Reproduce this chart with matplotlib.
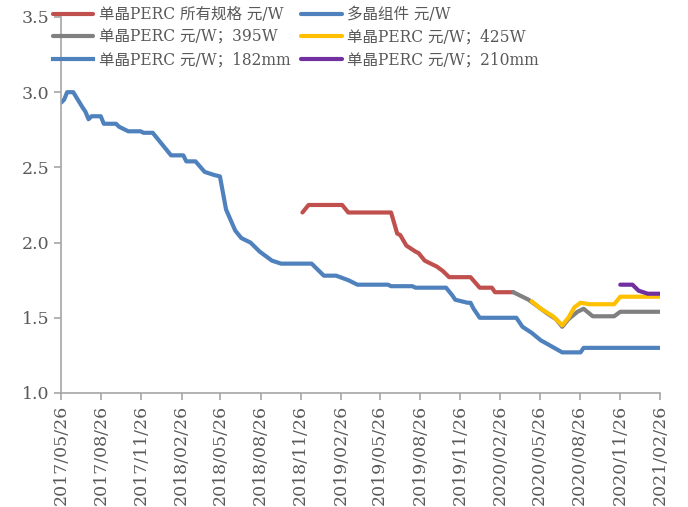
import matplotlib
matplotlib.use('Agg')
import matplotlib.pyplot as plt
import pandas as pd

plt.rcParams['font.family'] = ['DejaVu Serif', 'Noto Sans CJK SC']

# 多晶组件 元/W
dj_dates = ['2017-05-26', '2017-06-02', '2017-06-09', '2017-06-23', '2017-07-14', '2017-07-21',
            '2017-07-28', '2017-08-04', '2017-08-25', '2017-09-01', '2017-09-29', '2017-10-06',
            '2017-10-27', '2017-11-24', '2017-12-01', '2017-12-22', '2018-01-19', '2018-02-02',
            '2018-03-02', '2018-03-09', '2018-03-30', '2018-04-20', '2018-05-11', '2018-05-25',
            '2018-06-08', '2018-06-29', '2018-07-13', '2018-08-03', '2018-08-24', '2018-09-21',
            '2018-10-12', '2018-12-21', '2019-01-18', '2019-02-15', '2019-03-15', '2019-04-05',
            '2019-06-14', '2019-06-21', '2019-08-09', '2019-08-16', '2019-10-25', '2019-11-08',
            '2019-11-15', '2019-12-13', '2019-12-20', '2019-12-27', '2020-01-10', '2020-04-03',
            '2020-04-17', '2020-05-08', '2020-05-29', '2020-07-17', '2020-08-28', '2020-09-04',
            '2021-02-26']
dj_vals = [2.93, 2.95, 3.00, 3.00, 2.90, 2.87,
           2.82, 2.84, 2.84, 2.79, 2.79, 2.77,
           2.74, 2.74, 2.73, 2.73, 2.63, 2.58,
           2.58, 2.54, 2.54, 2.47, 2.45, 2.44,
           2.22, 2.08, 2.03, 2.00, 1.94, 1.88,
           1.86, 1.86, 1.78, 1.78, 1.75, 1.72,
           1.72, 1.71, 1.71, 1.70, 1.70, 1.65,
           1.62, 1.60, 1.60, 1.56, 1.50, 1.50,
           1.44, 1.40, 1.35, 1.27, 1.27, 1.30,
           1.30]

# 单晶PERC 所有规格 元/W
all_dates = ['2018-11-30', '2018-12-14', '2019-03-01', '2019-03-15', '2019-06-21', '2019-07-05',
             '2019-07-12', '2019-07-26', '2019-08-16', '2019-08-23', '2019-09-06', '2019-09-20',
             '2019-10-04', '2019-10-18', '2019-11-01', '2019-12-20', '2020-01-10', '2020-02-07',
             '2020-02-14', '2020-03-27']
all_vals = [2.20, 2.25, 2.25, 2.20, 2.20, 2.06,
            2.05, 1.98, 1.94, 1.93, 1.88, 1.86,
            1.84, 1.81, 1.77, 1.77, 1.70, 1.70,
            1.67, 1.67]

# 单晶PERC 元/W；395W
w395_dates = ['2020-03-27', '2020-04-03', '2020-05-01', '2020-06-12', '2020-07-03', '2020-07-17',
              '2020-07-31', '2020-08-21', '2020-09-04', '2020-09-25', '2020-11-13', '2020-11-27',
              '2021-02-26']
w395_vals = [1.67, 1.66, 1.62, 1.53, 1.49, 1.44,
             1.49, 1.54, 1.56, 1.51, 1.51, 1.54,
             1.54]

# 单晶PERC 元/W；425W
w425_dates = ['2020-05-08', '2020-05-29', '2020-06-26', '2020-07-10', '2020-07-17', '2020-07-31',
              '2020-08-14', '2020-08-28', '2020-09-18', '2020-11-13', '2020-11-27', '2021-02-26']
w425_vals = [1.61, 1.56, 1.51, 1.47, 1.45, 1.50,
             1.57, 1.60, 1.59, 1.59, 1.64, 1.64]

# 单晶PERC 元/W；182mm (no visible points)
mm182_dates = []
mm182_vals = []

# 单晶PERC 元/W；210mm
mm210_dates = ['2020-11-27', '2020-12-25', '2021-01-08', '2021-01-29', '2021-02-26']
mm210_vals = [1.72, 1.72, 1.68, 1.66, 1.66]

tick_labels = ['2017/05/26', '2017/08/26', '2017/11/26', '2018/02/26', '2018/05/26',
               '2018/08/26', '2018/11/26', '2019/02/26', '2019/05/26', '2019/08/26',
               '2019/11/26', '2020/02/26', '2020/05/26', '2020/08/26', '2020/11/26',
               '2021/02/26']

fig = plt.figure(figsize=(6.88, 5.07), dpi=100)
ax = fig.add_axes([0.0887, 0.2249, 0.8706, 0.7416])

lw = 3.0
def d(lst):
    return pd.to_datetime(lst)

l_all, = ax.plot(d(all_dates), all_vals, color='#C0504D', lw=lw, solid_capstyle='round')
l_dj, = ax.plot(d(dj_dates), dj_vals, color='#4F81BD', lw=lw, solid_capstyle='round')
l_395, = ax.plot(d(w395_dates), w395_vals, color='#808080', lw=lw, solid_capstyle='round')
l_425, = ax.plot(d(w425_dates), w425_vals, color='#FFC000', lw=lw, solid_capstyle='round')
l_182, = ax.plot(d(mm182_dates), mm182_vals, color='#4F81BD', lw=lw)
l_210, = ax.plot(d(mm210_dates), mm210_vals, color='#7030A0', lw=lw, solid_capstyle='round')

ax.set_xlim(pd.Timestamp('2017-05-26'), pd.Timestamp('2021-02-26'))
ax.set_ylim(1.0, 3.5)
ax.set_yticks([1.0, 1.5, 2.0, 2.5, 3.0, 3.5])
ax.set_yticklabels(['1.0', '1.5', '2.0', '2.5', '3.0', '3.5'])
tick_pos = pd.to_datetime(tick_labels, format='%Y/%m/%d')
ax.set_xticks(tick_pos)
ax.set_xticklabels(tick_labels, rotation=90)

for s in ['top', 'right']:
    ax.spines[s].set_visible(False)
for s in ['left', 'bottom']:
    ax.spines[s].set_color('#A6A6A6')
    ax.spines[s].set_linewidth(1.2)
ax.tick_params(axis='both', colors='#A6A6A6', labelcolor='#595959', labelsize=12.5,
               length=5, width=1.2, direction='out')

handles = [l_all, l_395, l_182, l_dj, l_425, l_210]
labels = ['单晶PERC 所有规格 元/W', '单晶PERC 元/W；395W', '单晶PERC 元/W；182mm',
          '多晶组件 元/W', '单晶PERC 元/W；425W', '单晶PERC 元/W；210mm']
fig.legend(handles, labels, loc='upper left', bbox_to_anchor=(0.068, 1.0), ncol=2,
           frameon=False, fontsize=11.2, handlelength=2.6, handletextpad=0.35,
           columnspacing=0.7, labelspacing=0.36, borderaxespad=0, labelcolor='#595959')

fig.savefig('out.png', dpi=100)
